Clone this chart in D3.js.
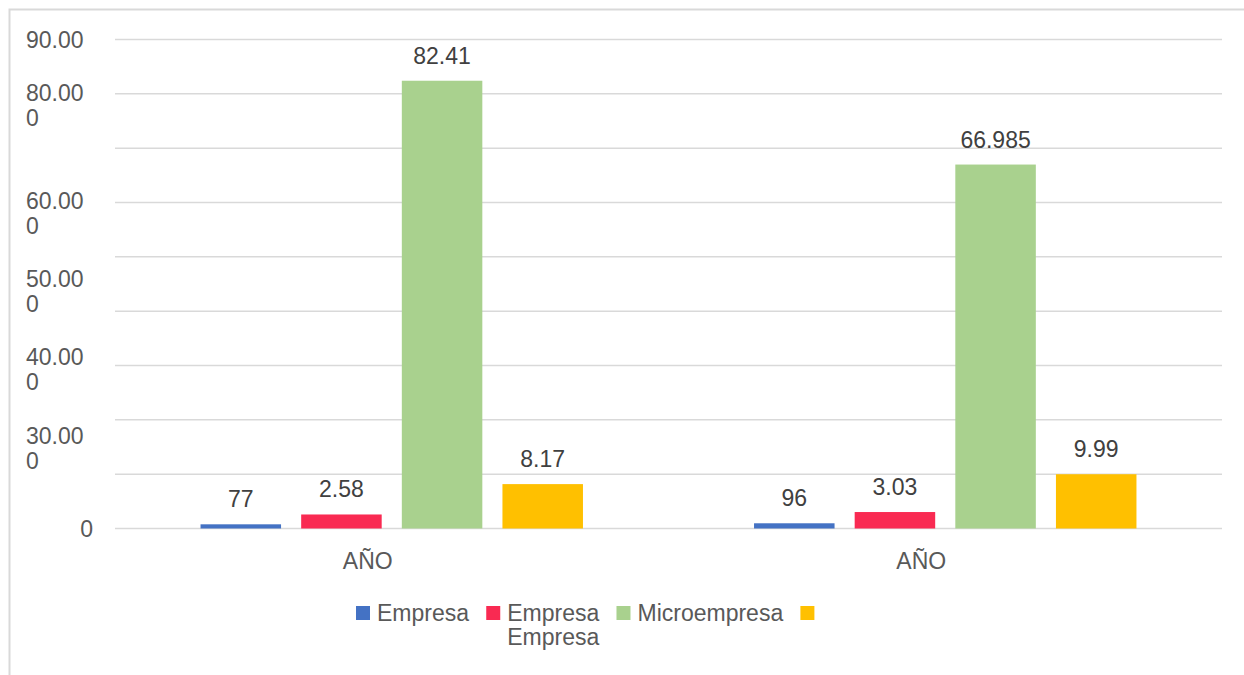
<!DOCTYPE html>
<html>
<head>
<meta charset="utf-8">
<script src="https://cdn.jsdelivr.net/npm/d3@7"></script>
<style>
  body { margin: 0; background: #fff; }
  text { font-family: "Liberation Sans", Arial, sans-serif; }
</style>
</head>
<body>
<div id="chart"></div>
<script>
// categories on the x axis (both read "AÑO" in the picture)
const categories = ["AÑO", "AÑO"];

// legend names, one per series (a "\n" wraps to a second line)
const seriesNames = ["Empresa", "Empresa\nEmpresa", "Microempresa", ""];

// bar values per category
const valuesGroup1 = [0.77, 2.58, 82.41, 8.17];
const valuesGroup2 = [0.96, 3.03, 66.985, 9.99];

// data labels as printed above the bars
const labelsGroup1 = ["77", "2.58", "82.41", "8.17"];
const labelsGroup2 = ["96", "3.03", "66.985", "9.99"];

// gridlines
const gridTicks = [0, 10, 20, 30, 40, 50, 60, 70, 80, 90];

// y tick labels as printed, and where they sit (in axis units)
const yTickText = ["90.00", "80.00\n0", "60.00\n0", "50.00\n0", "40.00\n0", "30.00\n0", "0"];
const yTickAt = [89.9, 80.2, 60.3, 45.9, 31.6, 17.0, 0];

const colors = ["#4472C4", "#F92A52", "#A9D18E", "#FFC000"];

const W = 1244, H = 675;
const plot = { left: 115, right: 1222, top: 39.5, bottom: 528.5 };

const svg = d3.select("#chart")
  .append("svg")
  .attr("width", W)
  .attr("height", H);

// outer chart frame (only top and left visible)
svg.append("rect")
  .attr("x", 9.5).attr("y", 9.5)
  .attr("width", W).attr("height", H)
  .attr("fill", "none")
  .attr("stroke", "#d9d9d9")
  .attr("stroke-width", 2);

const groups = [valuesGroup1, valuesGroup2];
const groupLabels = [labelsGroup1, labelsGroup2];

// outer band scale over the categories (indices, since names repeat)
const x0 = d3.scaleBand()
  .domain(d3.range(categories.length))
  .range([plot.left, plot.right])
  .padding(0);

// inner band scale over the series
const x1 = d3.scaleBand()
  .domain(d3.range(seriesNames.length))
  .range([0, x0.bandwidth()])
  .paddingInner(0.2)
  .paddingOuter(0.85);

const y = d3.scaleLinear()
  .domain([0, 90])
  .range([plot.bottom, plot.top]);

// gridlines
svg.append("g")
  .selectAll("line")
  .data(gridTicks)
  .enter()
  .append("line")
  .attr("x1", plot.left)
  .attr("x2", plot.right)
  .attr("y1", d => y(d))
  .attr("y2", d => y(d))
  .attr("stroke", "#d9d9d9")
  .attr("stroke-width", 1.5);

// y tick labels
const yLab = svg.append("g")
  .selectAll("text")
  .data(yTickText)
  .enter()
  .append("text")
  .attr("fill", "#595959")
  .attr("font-size", "23px")
  .attr("text-anchor", d => d === "0" ? "end" : "start")
  .attr("x", d => d === "0" ? 93 : 26)
  .attr("y", (d, i) => y(yTickAt[i]));

yLab.each(function(d) {
  const el = d3.select(this);
  const x = el.attr("x");
  d.split("\n").forEach((line, k) => {
    el.append("tspan")
      .attr("x", x)
      .attr("dy", k === 0 ? "0.35em" : 25)
      .text(line);
  });
});

// bars
const gBars = svg.append("g")
  .selectAll("g")
  .data(groups)
  .enter()
  .append("g")
  .attr("transform", (d, i) => "translate(" + x0(i) + ",0)");

gBars.selectAll("rect")
  .data(d => d)
  .enter()
  .append("rect")
  .attr("x", (d, i) => x1(i))
  .attr("y", d => y(d))
  .attr("width", x1.bandwidth())
  .attr("height", d => y(0) - y(d))
  .attr("fill", (d, i) => colors[i]);

// data labels
gBars.selectAll("text")
  .data((d, gi) => d.map((v, i) => ({ v: v, label: groupLabels[gi][i], i: i })))
  .enter()
  .append("text")
  .attr("x", d => x1(d.i) + x1.bandwidth() / 2)
  .attr("y", d => y(d.v) - 17)
  .attr("text-anchor", "middle")
  .attr("fill", "#404040")
  .attr("font-size", "23px")
  .text(d => d.label);

// x axis labels
const xAxis = svg.append("g")
  .attr("transform", "translate(0," + plot.bottom + ")")
  .call(d3.axisBottom(x0).tickSize(0).tickPadding(0).tickFormat(i => categories[i]));

xAxis.select(".domain").remove();
xAxis.selectAll("text")
  .attr("font-family", "Liberation Sans, Arial, sans-serif")
  .attr("font-size", "23px")
  .attr("fill", "#595959")
  .attr("dx", -24)
  .attr("y", 40)
  .attr("dy", 0);

// legend
const legend = svg.append("g");
let lx = 356;
seriesNames.forEach((name, i) => {
  legend.append("rect")
    .attr("x", lx).attr("y", 606)
    .attr("width", 14).attr("height", 14)
    .attr("fill", colors[i]);
  const t = legend.append("text")
    .attr("x", lx + 21)
    .attr("y", 621)
    .attr("fill", "#595959")
    .attr("font-size", "23px");
  name.split("\n").forEach((line, k) => {
    t.append("tspan")
      .attr("x", lx + 21)
      .attr("dy", k === 0 ? 0 : 24)
      .text(line);
  });
  lx += 21 + t.node().getBBox().width + 17;
});
</script>
</body>
</html>
